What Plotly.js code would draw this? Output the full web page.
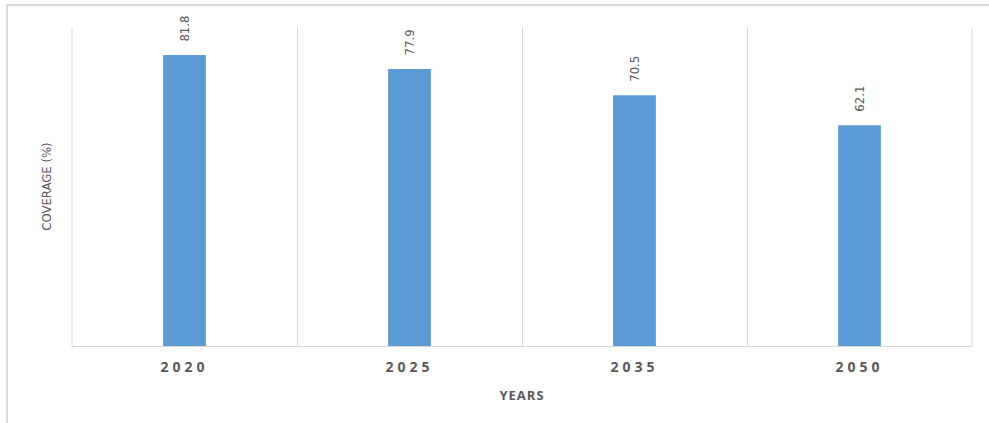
<!DOCTYPE html>
<html>
<head>
<meta charset="utf-8">
<script src="https://cdn.plot.ly/plotly-3.0.1.min.js"></script>
<style>
html, body { margin: 0; padding: 0; background: #fff; }
#chart { width: 989px; height: 423px; }
.xtick text { letter-spacing: 4px; }
.g-xtitle text { letter-spacing: 1px; }
</style>
</head>
<body>
<div id="chart"></div>
<script>
const years = ["2020", "2025", "2035", "2050"];
const coverage = [81.8, 77.9, 70.5, 62.1];
const labels = coverage.map(v => v.toFixed(1));

const trace = {
  type: "bar",
  x: years,
  y: coverage,
  width: 0.19,
  marker: { color: "#5b9bd5", line: { width: 0 } },
  hoverinfo: "x+y"
};

const annotations = years.map((yr, i) => ({
  x: i, y: coverage[i], xref: "x", yref: "y",
  text: labels[i], showarrow: false, textangle: -90,
  yanchor: "bottom", xanchor: "center", yshift: 11,
  font: { family: "Liberation Sans Narrow, DejaVu Sans Condensed, Arial", size: 13, color: "#595959" }
}));

const layout = {
  width: 989, height: 423,
  margin: { l: 72, r: 17, t: 27, b: 77 },
  paper_bgcolor: "#ffffff", plot_bgcolor: "#ffffff",
  showlegend: false,
  bargap: 0.81,
  xaxis: {
    type: "category",
    range: [-0.5, 3.5],
    tickson: "boundaries",
    showgrid: true, gridcolor: "#d9d9d9", gridwidth: 1,
    showline: true, linecolor: "#d9d9d9", linewidth: 1,
    ticks: "",
    ticklabelstandoff: 8,
    tickfont: { family: "Open Sans, Arial", size: 14, color: "#595959", weight: "bold" },
    title: { text: "YEARS", standoff: 16, font: { family: "Open Sans, Arial", size: 13, color: "#595959", weight: "bold" } },
    fixedrange: true
  },
  yaxis: {
    range: [0, 89.7],
    showgrid: false, zeroline: false, showline: false,
    showticklabels: false, ticks: "",
    title: { text: "COVERAGE (%)", standoff: 16, font: { family: "Liberation Sans Narrow, DejaVu Sans Condensed, Arial", size: 13, color: "#595959" } },
    fixedrange: true
  },
  annotations: annotations,
  shapes: [
    { type: "line", xref: "paper", yref: "paper", x0: -0.0722, x1: 1.02, y0: 1.069, y1: 1.069, line: { color: "#d9d9d9", width: 2 } },
    { type: "line", xref: "paper", yref: "paper", x0: -0.0722, x1: -0.0722, y0: 1.069, y1: -0.25, line: { color: "#d9d9d9", width: 2 } },
    { type: "line", xref: "paper", yref: "paper", x0: 0, x1: 0, y0: 0, y1: 1, line: { color: "#d9d9d9", width: 1 } },
    { type: "line", xref: "paper", yref: "paper", x0: 1, x1: 1, y0: 0, y1: 1, line: { color: "#d9d9d9", width: 1 } }
  ]
};

Plotly.newPlot("chart", [trace], layout, { displayModeBar: false, staticPlot: true });
</script>
</body>
</html>
